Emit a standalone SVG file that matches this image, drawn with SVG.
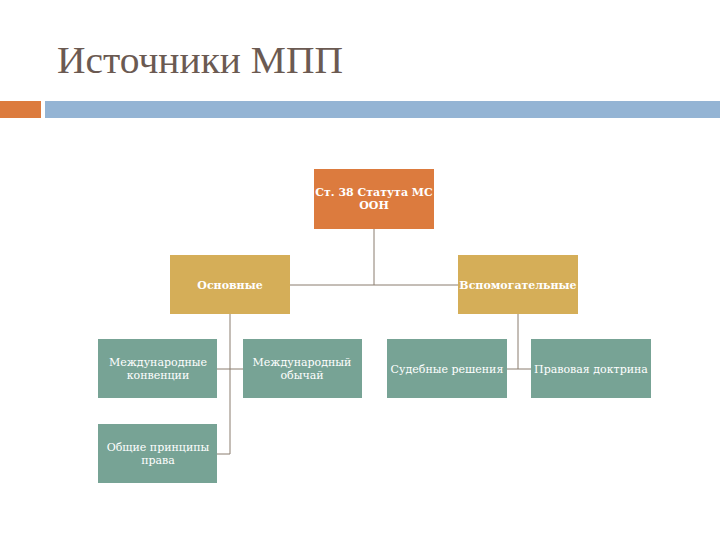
<svg xmlns="http://www.w3.org/2000/svg" width="720" height="540" viewBox="0 0 720 540">
<style>
.t{font-family:"DejaVu Serif","Liberation Serif",serif;font-size:11px;fill:#ffffff;text-anchor:middle}
.b{font-weight:bold}
.c{fill:none;stroke:#8a7d6e;stroke-width:1}
.o{fill:#DC7B3E}
.g{fill:#D5AE58}
.k{fill:#77A395}
</style>
<rect width="720" height="540" fill="#ffffff"/>
<text x="57" y="73" font-family="Liberation Serif,serif" font-size="38" fill="#6B5A52" textLength="286" lengthAdjust="spacingAndGlyphs">Источники МПП</text>
<rect x="0" y="101" width="41" height="17" fill="#DC7B3E"/>
<rect x="45" y="101" width="675" height="17" fill="#94B4D4"/>
<g id="connectors">
<path class="c" d="M374 229V285M290 285H458"/>
<path class="c" d="M230 314V454H217M217 369H243"/>
<path class="c" d="M518 314V369M507 369H531"/>
</g>
<g id="n1"><rect class="o" x="314" y="169" width="120" height="60"/><text class="t b" x="374" y="196">Ст. 38 Статута МС</text><text class="t b" x="374" y="209">ООН</text></g>
<g id="n2"><rect class="g" x="170" y="255" width="120" height="59"/><text class="t b" x="230" y="289">Основные</text></g>
<g id="n3"><rect class="g" x="458" y="255" width="120" height="59"/><text class="t b" x="518" y="289">Вспомогательные</text></g>
<g id="n4"><rect class="k" x="98" y="339" width="119" height="59"/><text class="t" x="158" y="366">Международные</text><text class="t" x="158" y="379">конвенции</text></g>
<g id="n5"><rect class="k" x="243" y="339" width="119" height="59"/><text class="t" x="302" y="366">Международный</text><text class="t" x="302" y="379">обычай</text></g>
<g id="n6"><rect class="k" x="98" y="424" width="119" height="59"/><text class="t" x="158" y="451">Общие принципы</text><text class="t" x="158" y="464">права</text></g>
<g id="n7"><rect class="k" x="387" y="339" width="120" height="59"/><text class="t" x="447" y="373">Судебные решения</text></g>
<g id="n8"><rect class="k" x="531" y="339" width="120" height="59"/><text class="t" x="591" y="373">Правовая доктрина</text></g>
</svg>
